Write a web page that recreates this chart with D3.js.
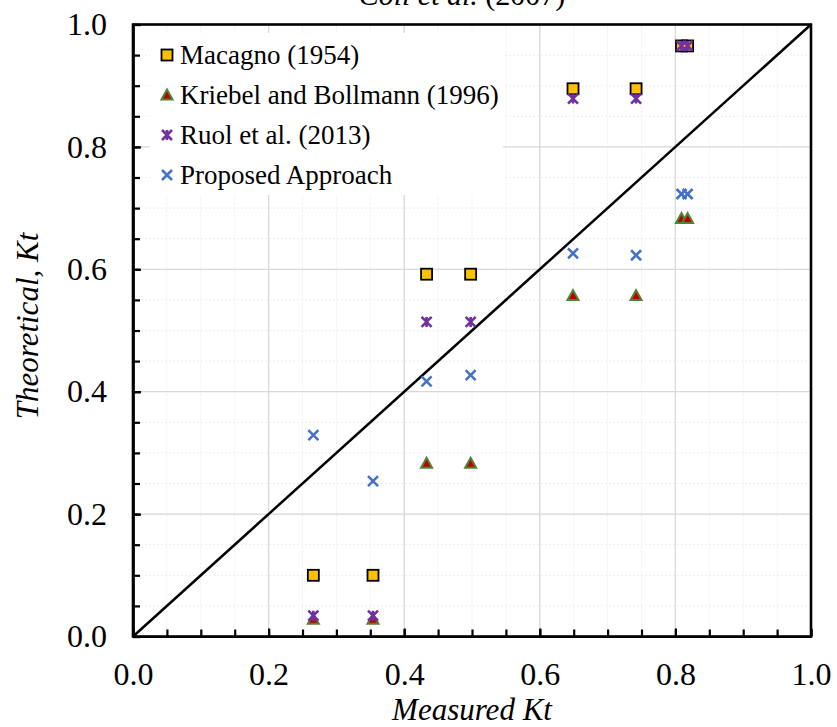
<!DOCTYPE html>
<html>
<head>
<meta charset="utf-8">
<script src="https://cdn.jsdelivr.net/npm/d3@7"></script>
<style>
  html, body { margin: 0; padding: 0; background: #fff; }
  svg { display: block; }
</style>
</head>
<body>
<svg id="chart" width="837" height="727" font-family="'Liberation Serif', 'Times New Roman', serif"></svg>
<script>
// Measured transmission coefficients (x) shared by every series
const measuredKt = [0.266, 0.354, 0.433, 0.498, 0.649, 0.742, 0.809, 0.818];

// Theoretical Kt for each method
const macagno  = [0.100, 0.100, 0.592, 0.592, 0.895, 0.895, 0.965, 0.965];
const kriebel  = [0.028, 0.028, 0.283, 0.283, 0.557, 0.557, 0.683, 0.683];
const ruol     = [0.034, 0.034, 0.514, 0.514, 0.879, 0.879, 0.965, 0.965];
const proposed = [0.329, 0.254, 0.417, 0.427, 0.626, 0.623, 0.723, 0.723];

const seriesNames = ["Macagno (1954)", "Kriebel and Bollmann (1996)", "Ruol et al. (2013)", "Proposed Approach"];
const majorTicks = [0, 0.2, 0.4, 0.6, 0.8, 1.0];
const minorTicks = d3.range(0, 1.0001, 0.05);

const FONT = "'Liberation Serif', 'Times New Roman', serif";
const svg = d3.select("#chart");
const x = d3.scaleLinear().domain([0, 1]).range([133, 811]);
const y = d3.scaleLinear().domain([0, 1]).range([636.5, 24.5]);

// gridlines: faint dotted minor, light solid major
const grid = svg.append("g");
grid.selectAll("line.vminor").data(minorTicks).join("line")
  .attr("x1", d => x(d)).attr("x2", d => x(d)).attr("y1", y(0)).attr("y2", y(1))
  .attr("stroke", "#ededed").attr("stroke-width", 1).attr("stroke-dasharray", "2,2");
grid.selectAll("line.hminor").data(minorTicks).join("line")
  .attr("y1", d => y(d)).attr("y2", d => y(d)).attr("x1", x(0)).attr("x2", x(1))
  .attr("stroke", "#ededed").attr("stroke-width", 1).attr("stroke-dasharray", "2,2");
grid.selectAll("line.vmajor").data(majorTicks).join("line")
  .attr("x1", d => x(d)).attr("x2", d => x(d)).attr("y1", y(0)).attr("y2", y(1))
  .attr("stroke", "#d9d9d9").attr("stroke-width", 1.3);
grid.selectAll("line.hmajor").data(majorTicks).join("line")
  .attr("y1", d => y(d)).attr("y2", d => y(d)).attr("x1", x(0)).attr("x2", x(1))
  .attr("stroke", "#d9d9d9").attr("stroke-width", 1.3);

// legend backdrop hides the gridlines behind the key
svg.append("rect").attr("x", 150).attr("y", 33).attr("width", 353).attr("height", 162).attr("fill", "#fff");

// 1:1 reference line
svg.append("line")
  .attr("x1", x(0)).attr("y1", y(0)).attr("x2", x(1)).attr("y2", y(1))
  .attr("stroke", "#000").attr("stroke-width", 2.5);

// marker painters
function square(g, cx, cy) {
  g.append("rect").attr("x", cx - 5.5).attr("y", cy - 5.5).attr("width", 11).attr("height", 11)
    .attr("fill", "#FFC000").attr("stroke", "#000").attr("stroke-width", 1.8);
}
function triangle(g, cx, cy) {
  const s = 5.5;
  g.append("path").attr("d", `M${cx},${cy - s}L${cx + s},${cy + s * 0.8}L${cx - s},${cy + s * 0.8}Z`)
    .attr("fill", "#C00000").attr("stroke", "#548235").attr("stroke-width", 2);
}
function star(g, cx, cy) {
  const s = 5;
  g.append("path").attr("d",
    `M${cx - s},${cy - s}L${cx + s},${cy + s}M${cx + s},${cy - s}L${cx - s},${cy + s}M${cx},${cy - s}L${cx},${cy + s}`)
    .attr("stroke", "#7030A0").attr("stroke-width", 2.6).attr("fill", "none");
}
function cross(g, cx, cy) {
  const s = 5;
  g.append("path").attr("d", `M${cx - s},${cy - s}L${cx + s},${cy + s}M${cx + s},${cy - s}L${cx - s},${cy + s}`)
    .attr("stroke", "#4472C4").attr("stroke-width", 2.6).attr("fill", "none");
}
const painters = [square, triangle, star, cross];
const allSeries = [macagno, kriebel, ruol, proposed];

const marks = svg.append("g");
allSeries.forEach((vals, i) => {
  const g = marks.append("g");
  vals.forEach((v, j) => painters[i](g, x(measuredKt[j]), y(v)));
});

// axes with inward ticks
const xMinor = d3.axisBottom(x).tickValues(minorTicks).tickSizeInner(-7).tickSizeOuter(0).tickFormat("");
const yMinor = d3.axisLeft(y).tickValues(minorTicks).tickSizeInner(-7).tickSizeOuter(0).tickFormat("");
const xAxis = d3.axisBottom(x).tickValues(majorTicks).tickSizeInner(-8).tickSizeOuter(0).tickPadding(26).tickFormat(d3.format(".1f"));
const yAxis = d3.axisLeft(y).tickValues(majorTicks).tickSizeInner(-8).tickSizeOuter(0).tickPadding(26).tickFormat(d3.format(".1f"));

function styleAxis(g) {
  g.attr("font-family", FONT).attr("font-size", 32);
  g.selectAll("path, line").attr("stroke", "#000").attr("stroke-width", 2.2);
  g.selectAll("text").attr("fill", "#000");
}
svg.append("g").attr("transform", `translate(0,${y(0)})`).call(xMinor).call(styleAxis);
svg.append("g").attr("transform", `translate(${x(0)},0)`).call(yMinor).call(styleAxis);
svg.append("g").attr("transform", `translate(0,${y(0)})`).call(xAxis).call(styleAxis);
svg.append("g").attr("transform", `translate(${x(0)},0)`).call(yAxis).call(styleAxis);

// plot frame
svg.append("rect").attr("x", x(0)).attr("y", y(1)).attr("width", x(1) - x(0)).attr("height", y(0) - y(1))
  .attr("fill", "none").attr("stroke", "#000").attr("stroke-width", 2.6);

// legend
const legend = svg.append("g").attr("font-family", FONT).attr("font-size", 27);
const rowY = [55, 95, 135, 175];
seriesNames.forEach((name, i) => {
  painters[i](legend, 167, rowY[i]);
  legend.append("text").attr("x", 180).attr("y", rowY[i]).attr("dy", "0.35em")
    .attr("fill", "#000").text(name);
});

// titles
const title = svg.append("text").attr("x", 462).attr("y", 5).attr("text-anchor", "middle")
  .attr("font-family", FONT).attr("font-size", 30).attr("fill", "#000");
title.append("tspan").attr("font-style", "italic").text("Coll et al.");
title.append("tspan").text("  (2007)");

svg.append("text").attr("x", 472).attr("y", 720).attr("text-anchor", "middle")
  .attr("font-family", FONT).attr("font-size", 31).attr("font-style", "italic").attr("fill", "#000").text("Measured Kt");

svg.append("text").attr("transform", "translate(38,326) rotate(-90)").attr("text-anchor", "middle")
  .attr("font-family", FONT).attr("font-size", 31).attr("font-style", "italic").attr("fill", "#000").text("Theoretical, Kt");
</script>
</body>
</html>
